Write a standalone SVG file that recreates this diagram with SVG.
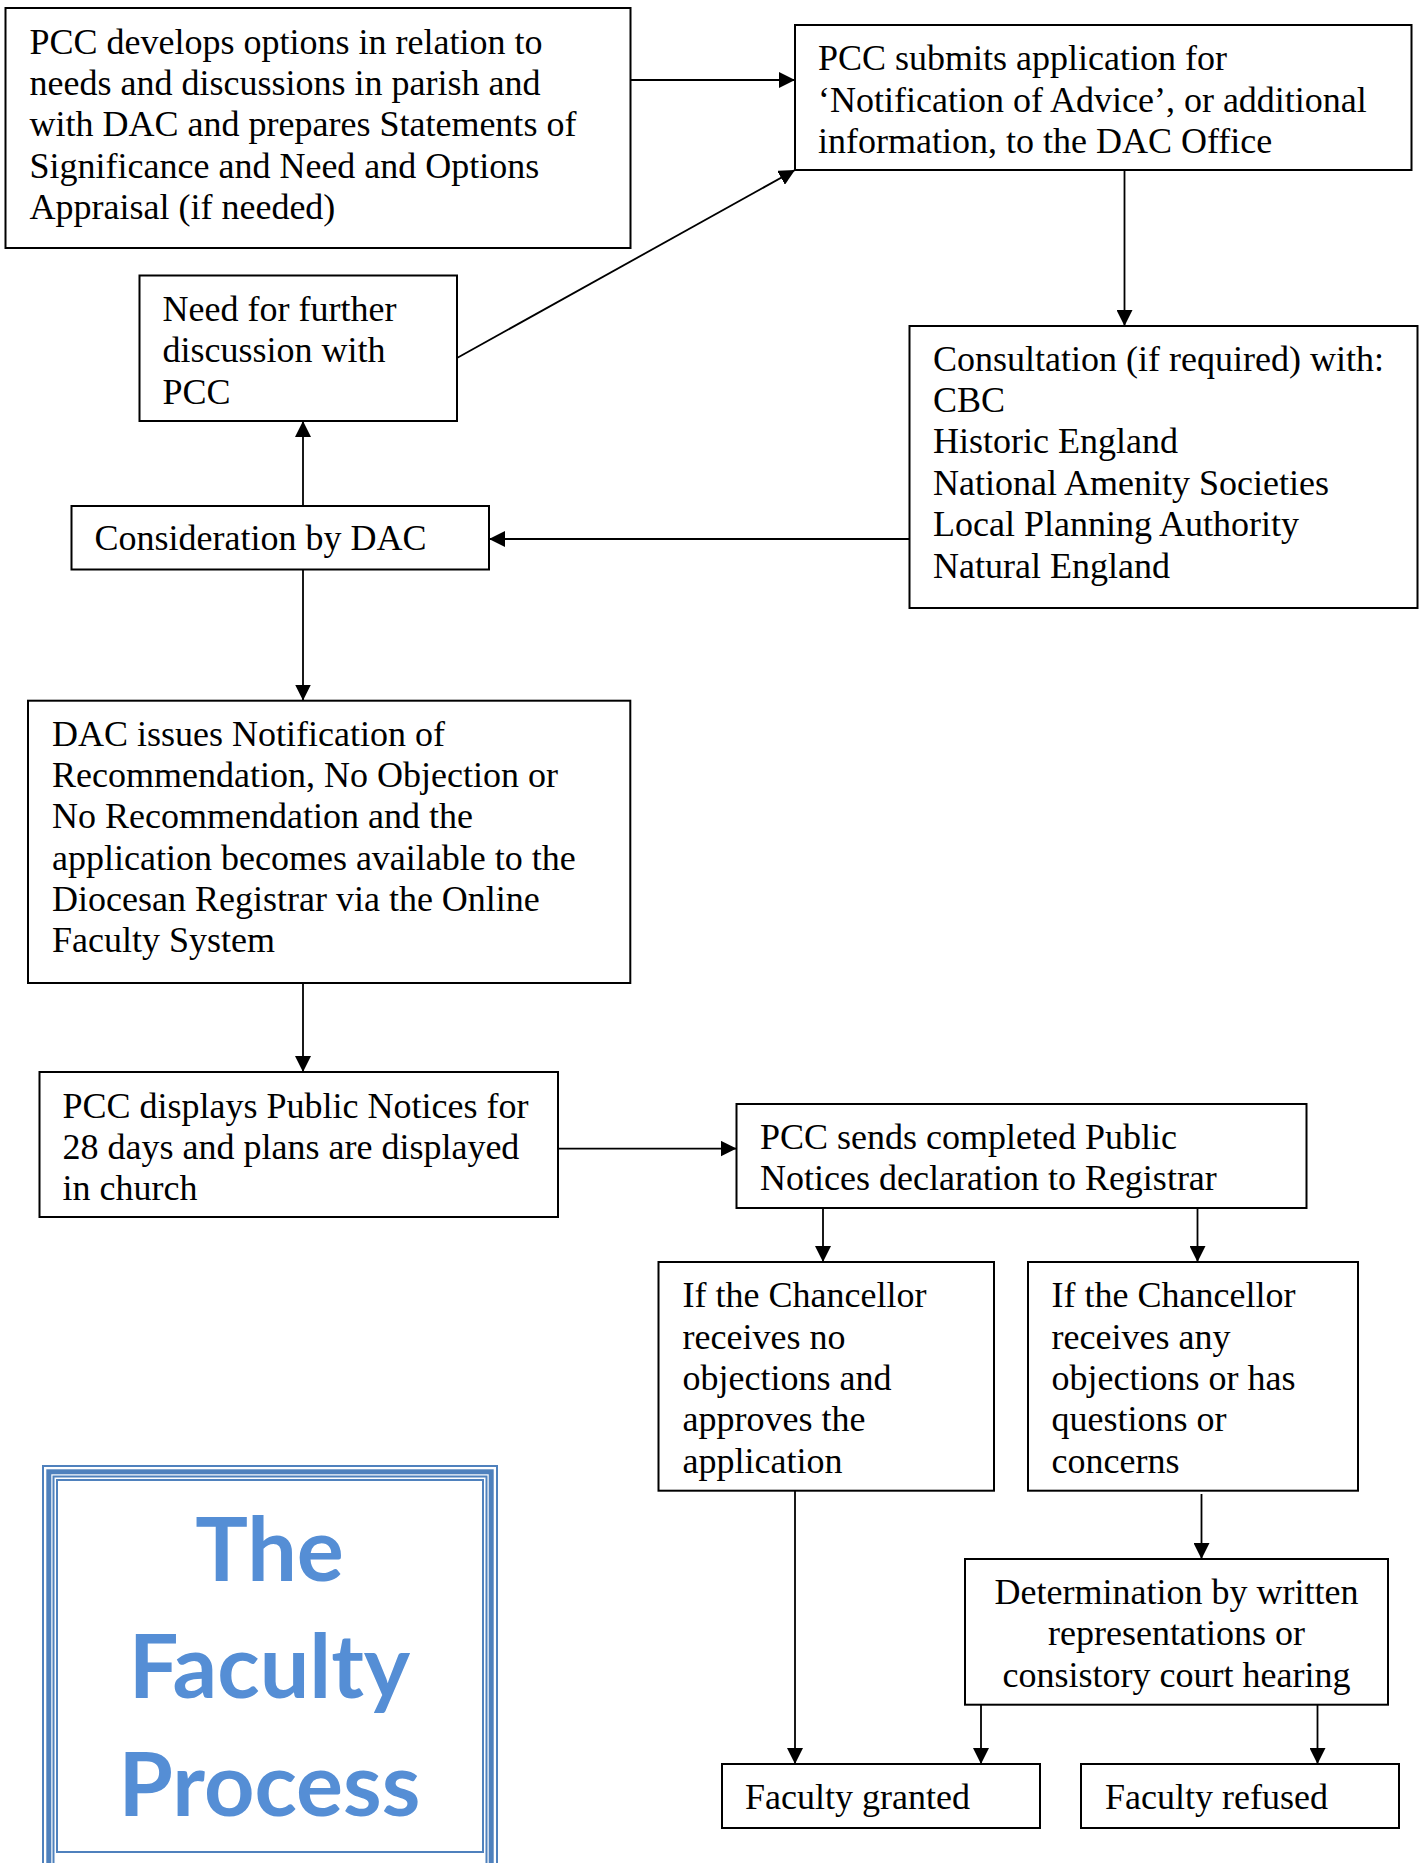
<svg xmlns="http://www.w3.org/2000/svg" width="1424" height="1863" viewBox="0 0 1424 1863">
<defs>
<style>
.box{fill:#fff;stroke:#000;stroke-width:2}
.t{font-family:"Liberation Serif","Times New Roman",serif;font-size:36px;fill:#000}
.c{stroke:#000;stroke-width:1.8;fill:none;marker-end:url(#ah)}
.title{font-family:Lato,"Open Sans",sans-serif;font-weight:bold;font-size:88px;fill:#558ED5;text-anchor:middle}
.fr{fill:none;stroke:#4F81BD}
</style>
<marker id="ah" markerUnits="userSpaceOnUse" markerWidth="16" markerHeight="16" refX="16" refY="8" orient="auto">
<path d="M0,0 L16,8 L0,16 z" fill="#000"/>
</marker>
</defs>
<rect width="1424" height="1863" fill="#fff"/>

<g id="connectors">
<line class="c" x1="630.5" y1="80" x2="795" y2="80"/>
<line class="c" x1="457" y1="358" x2="795" y2="170"/>
<line class="c" x1="1124.5" y1="170" x2="1124.5" y2="326"/>
<line class="c" x1="909.5" y1="539" x2="489" y2="539"/>
<line class="c" x1="303" y1="506" x2="303" y2="421"/>
<line class="c" x1="303" y1="569.5" x2="303" y2="700.5"/>
<line class="c" x1="303" y1="983" x2="303" y2="1072"/>
<line class="c" x1="558" y1="1148.6" x2="736.5" y2="1148.6"/>
<line class="c" x1="823" y1="1208" x2="823" y2="1262"/>
<line class="c" x1="1197.5" y1="1208" x2="1197.5" y2="1262"/>
<line class="c" x1="795" y1="1490.7" x2="795" y2="1764"/>
<line class="c" x1="1201.5" y1="1494" x2="1201.5" y2="1559"/>
<line class="c" x1="981" y1="1704.7" x2="981" y2="1764"/>
<line class="c" x1="1317.5" y1="1704.7" x2="1317.5" y2="1764"/>
</g>

<g id="n-develops">
<rect class="box" x="5.5" y="8" width="625" height="240"/>
<text class="t" x="29.5" y="53.6">PCC develops options in relation to</text>
<text class="t" x="29.5" y="95">needs and discussions in parish and</text>
<text class="t" x="29.5" y="136.4">with DAC and prepares Statements of</text>
<text class="t" x="29.5" y="177.8">Significance and Need and Options</text>
<text class="t" x="29.5" y="219.2">Appraisal (if needed)</text>
</g>

<g id="n-submits">
<rect class="box" x="795" y="25" width="616.5" height="145"/>
<text class="t" x="818" y="70.4">PCC submits application for</text>
<text class="t" x="818" y="111.8">‘Notification of Advice’, or additional</text>
<text class="t" x="818" y="153.2">information, to the DAC Office</text>
</g>

<g id="n-need">
<rect class="box" x="139.5" y="275.5" width="317.5" height="145.5"/>
<text class="t" x="162.5" y="320.7">Need for further</text>
<text class="t" x="162.5" y="362.1">discussion with</text>
<text class="t" x="162.5" y="403.5">PCC</text>
</g>

<g id="n-consultation">
<rect class="box" x="909.5" y="326" width="508" height="282"/>
<text class="t" x="933" y="370.5">Consultation (if required) with:</text>
<text class="t" x="933" y="411.9">CBC</text>
<text class="t" x="933" y="453.3">Historic England</text>
<text class="t" x="933" y="494.7">National Amenity Societies</text>
<text class="t" x="933" y="536.1">Local Planning Authority</text>
<text class="t" x="933" y="577.5">Natural England</text>
</g>

<g id="n-consideration">
<rect class="box" x="71.5" y="506" width="417.5" height="63.5"/>
<text class="t" x="94.5" y="549.5">Consideration by DAC</text>
</g>

<g id="n-dac-issues">
<rect class="box" x="28" y="700.7" width="602.3" height="282.3"/>
<text class="t" x="52" y="746">DAC issues Notification of</text>
<text class="t" x="52" y="787.2">Recommendation, No Objection or</text>
<text class="t" x="52" y="828.4">No Recommendation and the</text>
<text class="t" x="52" y="869.6">application becomes available to the</text>
<text class="t" x="52" y="910.8">Diocesan Registrar via the Online</text>
<text class="t" x="52" y="952">Faculty System</text>
</g>

<g id="n-displays">
<rect class="box" x="39.5" y="1072" width="518.5" height="145"/>
<text class="t" x="62.5" y="1117.5">PCC displays Public Notices for</text>
<text class="t" x="62.5" y="1158.7">28 days and plans are displayed</text>
<text class="t" x="62.5" y="1199.9">in church</text>
</g>

<g id="n-sends">
<rect class="box" x="736.5" y="1104" width="570" height="104"/>
<text class="t" x="760" y="1148.8">PCC sends completed Public</text>
<text class="t" x="760" y="1190.2">Notices declaration to Registrar</text>
</g>

<g id="n-no-objections">
<rect class="box" x="658.5" y="1262" width="335.5" height="228.7"/>
<text class="t" x="682.5" y="1307.2">If the Chancellor</text>
<text class="t" x="682.5" y="1348.6">receives no</text>
<text class="t" x="682.5" y="1390">objections and</text>
<text class="t" x="682.5" y="1431.4">approves the</text>
<text class="t" x="682.5" y="1472.8">application</text>
</g>

<g id="n-objections">
<rect class="box" x="1028" y="1262" width="330" height="228.7"/>
<text class="t" x="1051.5" y="1307.2">If the Chancellor</text>
<text class="t" x="1051.5" y="1348.6">receives any</text>
<text class="t" x="1051.5" y="1390">objections or has</text>
<text class="t" x="1051.5" y="1431.4">questions or</text>
<text class="t" x="1051.5" y="1472.8">concerns</text>
</g>

<g id="n-determination">
<rect class="box" x="965" y="1559" width="423" height="145.7"/>
<text class="t" x="1176.5" y="1604" text-anchor="middle">Determination by written</text>
<text class="t" x="1176.5" y="1645.4" text-anchor="middle">representations or</text>
<text class="t" x="1176.5" y="1686.8" text-anchor="middle">consistory court hearing</text>
</g>

<g id="n-granted">
<rect class="box" x="722" y="1764" width="318" height="64"/>
<text class="t" x="745" y="1808.8">Faculty granted</text>
</g>

<g id="n-refused">
<rect class="box" x="1081" y="1764" width="318" height="64"/>
<text class="t" x="1105" y="1808.8">Faculty refused</text>
</g>

<g id="title">
<rect class="fr" x="43" y="1466" width="454" height="420" stroke-width="2" stroke="#6C9AD2"/>
<rect class="fr" x="48.8" y="1471.8" width="442.4" height="408" stroke-width="5"/>
<rect class="fr" x="53.5" y="1476.5" width="433" height="398" stroke-width="2"/>
<rect class="fr" x="57" y="1480" width="426" height="372" stroke-width="2"/>
<text class="title" x="269.5" y="1581">The</text>
<text class="title" x="269.5" y="1698">Faculty</text>
<text class="title" x="269.5" y="1816">Process</text>
</g>
</svg>
